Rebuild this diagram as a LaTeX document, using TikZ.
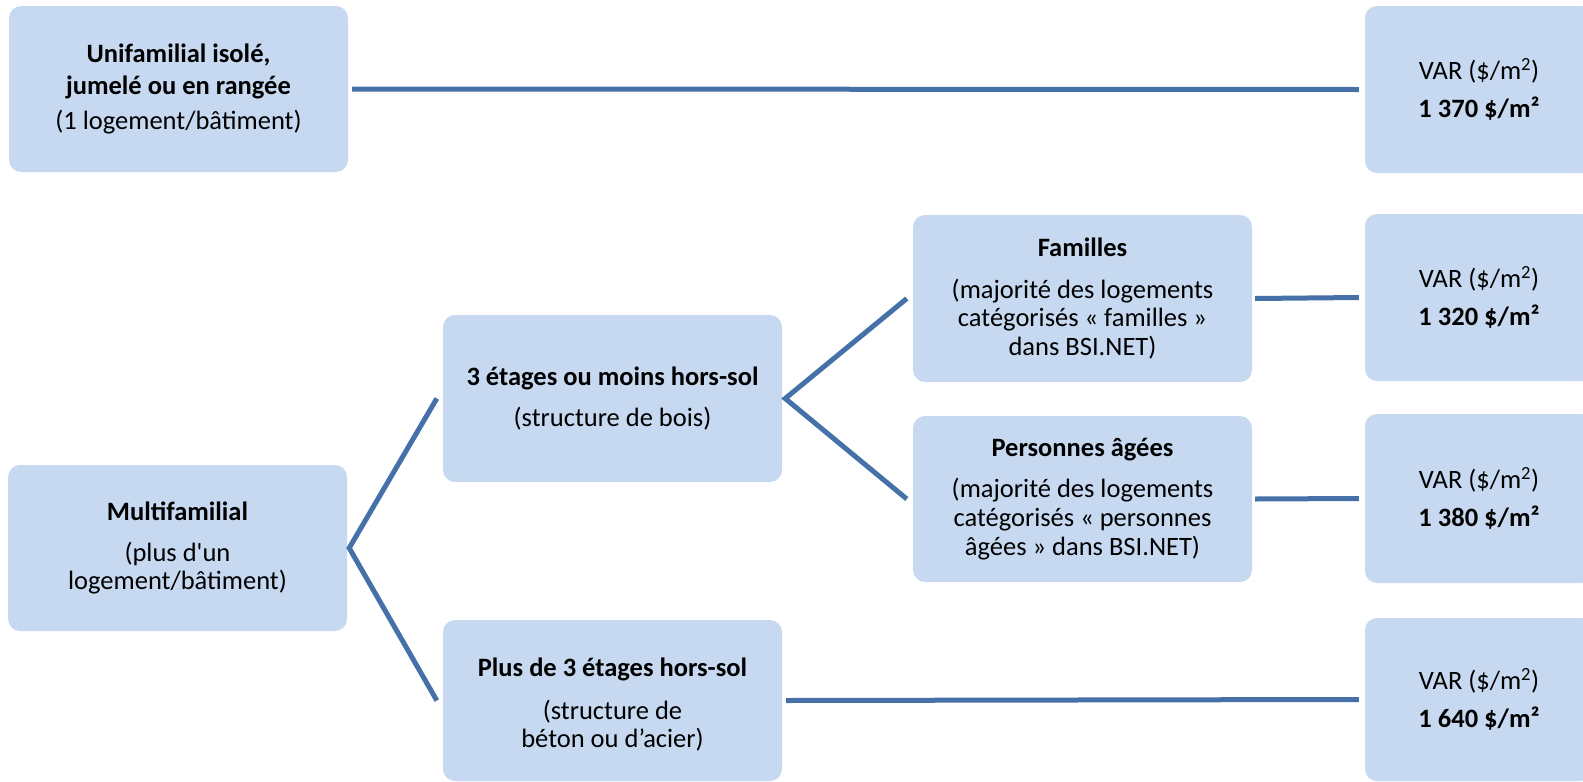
\documentclass[tikz,border=0pt]{standalone}
\usepackage{fontspec}
\setmainfont{Carlito}
\definecolor{boxfill}{HTML}{C6D9F1}
\definecolor{linkcol}{HTML}{4570A8}
\tikzset{
  box/.style={rectangle, rounded corners=12pt, fill=boxfill, inner sep=0pt,
    align=center, minimum width=339pt, font=\fontsize{26.5}{28.8}\selectfont},
  varbox/.style={box, minimum width=228pt},
  link/.style={draw=linkcol, line width=5pt, line cap=butt, line join=miter}
}
\begin{document}
\begin{tikzpicture}[x=1pt,y=-1pt]
\useasboundingbox (0,0) rectangle (1583,782);
\node[box, minimum height=166pt] (uni) at (178.5,89)
  {\textbf{Unifamilial isolé,}\\[3.5pt] \textbf{jumelé ou en rangée}\\[6pt] (1 logement/bâtiment)};
\node[varbox, minimum height=167pt] (var1) at (1479,89.5)
  {VAR (\$/m\textsuperscript{2})\\[8.5pt] \textbf{1 370 \$/m²}};
\node[box, minimum height=166pt] (multi) at (177.5,548)
  {\textbf{Multifamilial}\\[12pt] (plus d\textquotesingle un\\ logement/bâtiment)};
\node[box, minimum height=167pt] (trois) at (612.5,398.5)
  {\textbf{3 étages ou moins hors-sol}\\[12.5pt] (structure de bois)};
\node[box, minimum height=161pt] (plus) at (612.5,700.5)
  {\rule{0pt}{27pt}\textbf{Plus de 3 étages hors-sol}\\[14pt] (structure de\\ béton ou d’acier)};
\node[box, minimum height=167pt] (fam) at (1082.5,298.5)
  {\textbf{Familles}\\[13pt] (majorité des logements\\ catégorisés « familles »\\ dans BSI.NET)};
\node[box, minimum height=166pt] (age) at (1082.5,499)
  {\textbf{Personnes âgées}\\[13pt] (majorité des logements\\ catégorisés « personnes\\ âgées » dans BSI.NET)};
\node[varbox, minimum height=167pt] (var2) at (1479,297.5)
  {VAR (\$/m\textsuperscript{2})\\[8.5pt] \textbf{1 320 \$/m²}};
\node[varbox, minimum height=169pt] (var3) at (1479,498.5)
  {VAR (\$/m\textsuperscript{2})\\[8.5pt] \textbf{1 380 \$/m²}};
\node[varbox, minimum height=163pt] (var4) at (1479,699.5)
  {VAR (\$/m\textsuperscript{2})\\[8.5pt] \textbf{1 640 \$/m²}};
\draw[link] ([xshift=4pt]uni.east) -- ([xshift=-6pt]var1.west);
\draw[link] ([xshift=-6pt]trois.west) -- ([xshift=2pt]multi.east) -- ([xshift=-6pt]plus.west);
\draw[link] ([xshift=-6pt]fam.west) -- ([xshift=3pt]trois.east) -- ([xshift=-6pt]age.west);
\draw[link] ([xshift=3pt]fam.east) -- ([xshift=-6pt]var2.west);
\draw[link] ([xshift=3pt]age.east) -- ([xshift=-6pt]var3.west);
\draw[link] ([xshift=4pt]plus.east) -- ([xshift=-6pt]var4.west);
\end{tikzpicture}
\end{document}
